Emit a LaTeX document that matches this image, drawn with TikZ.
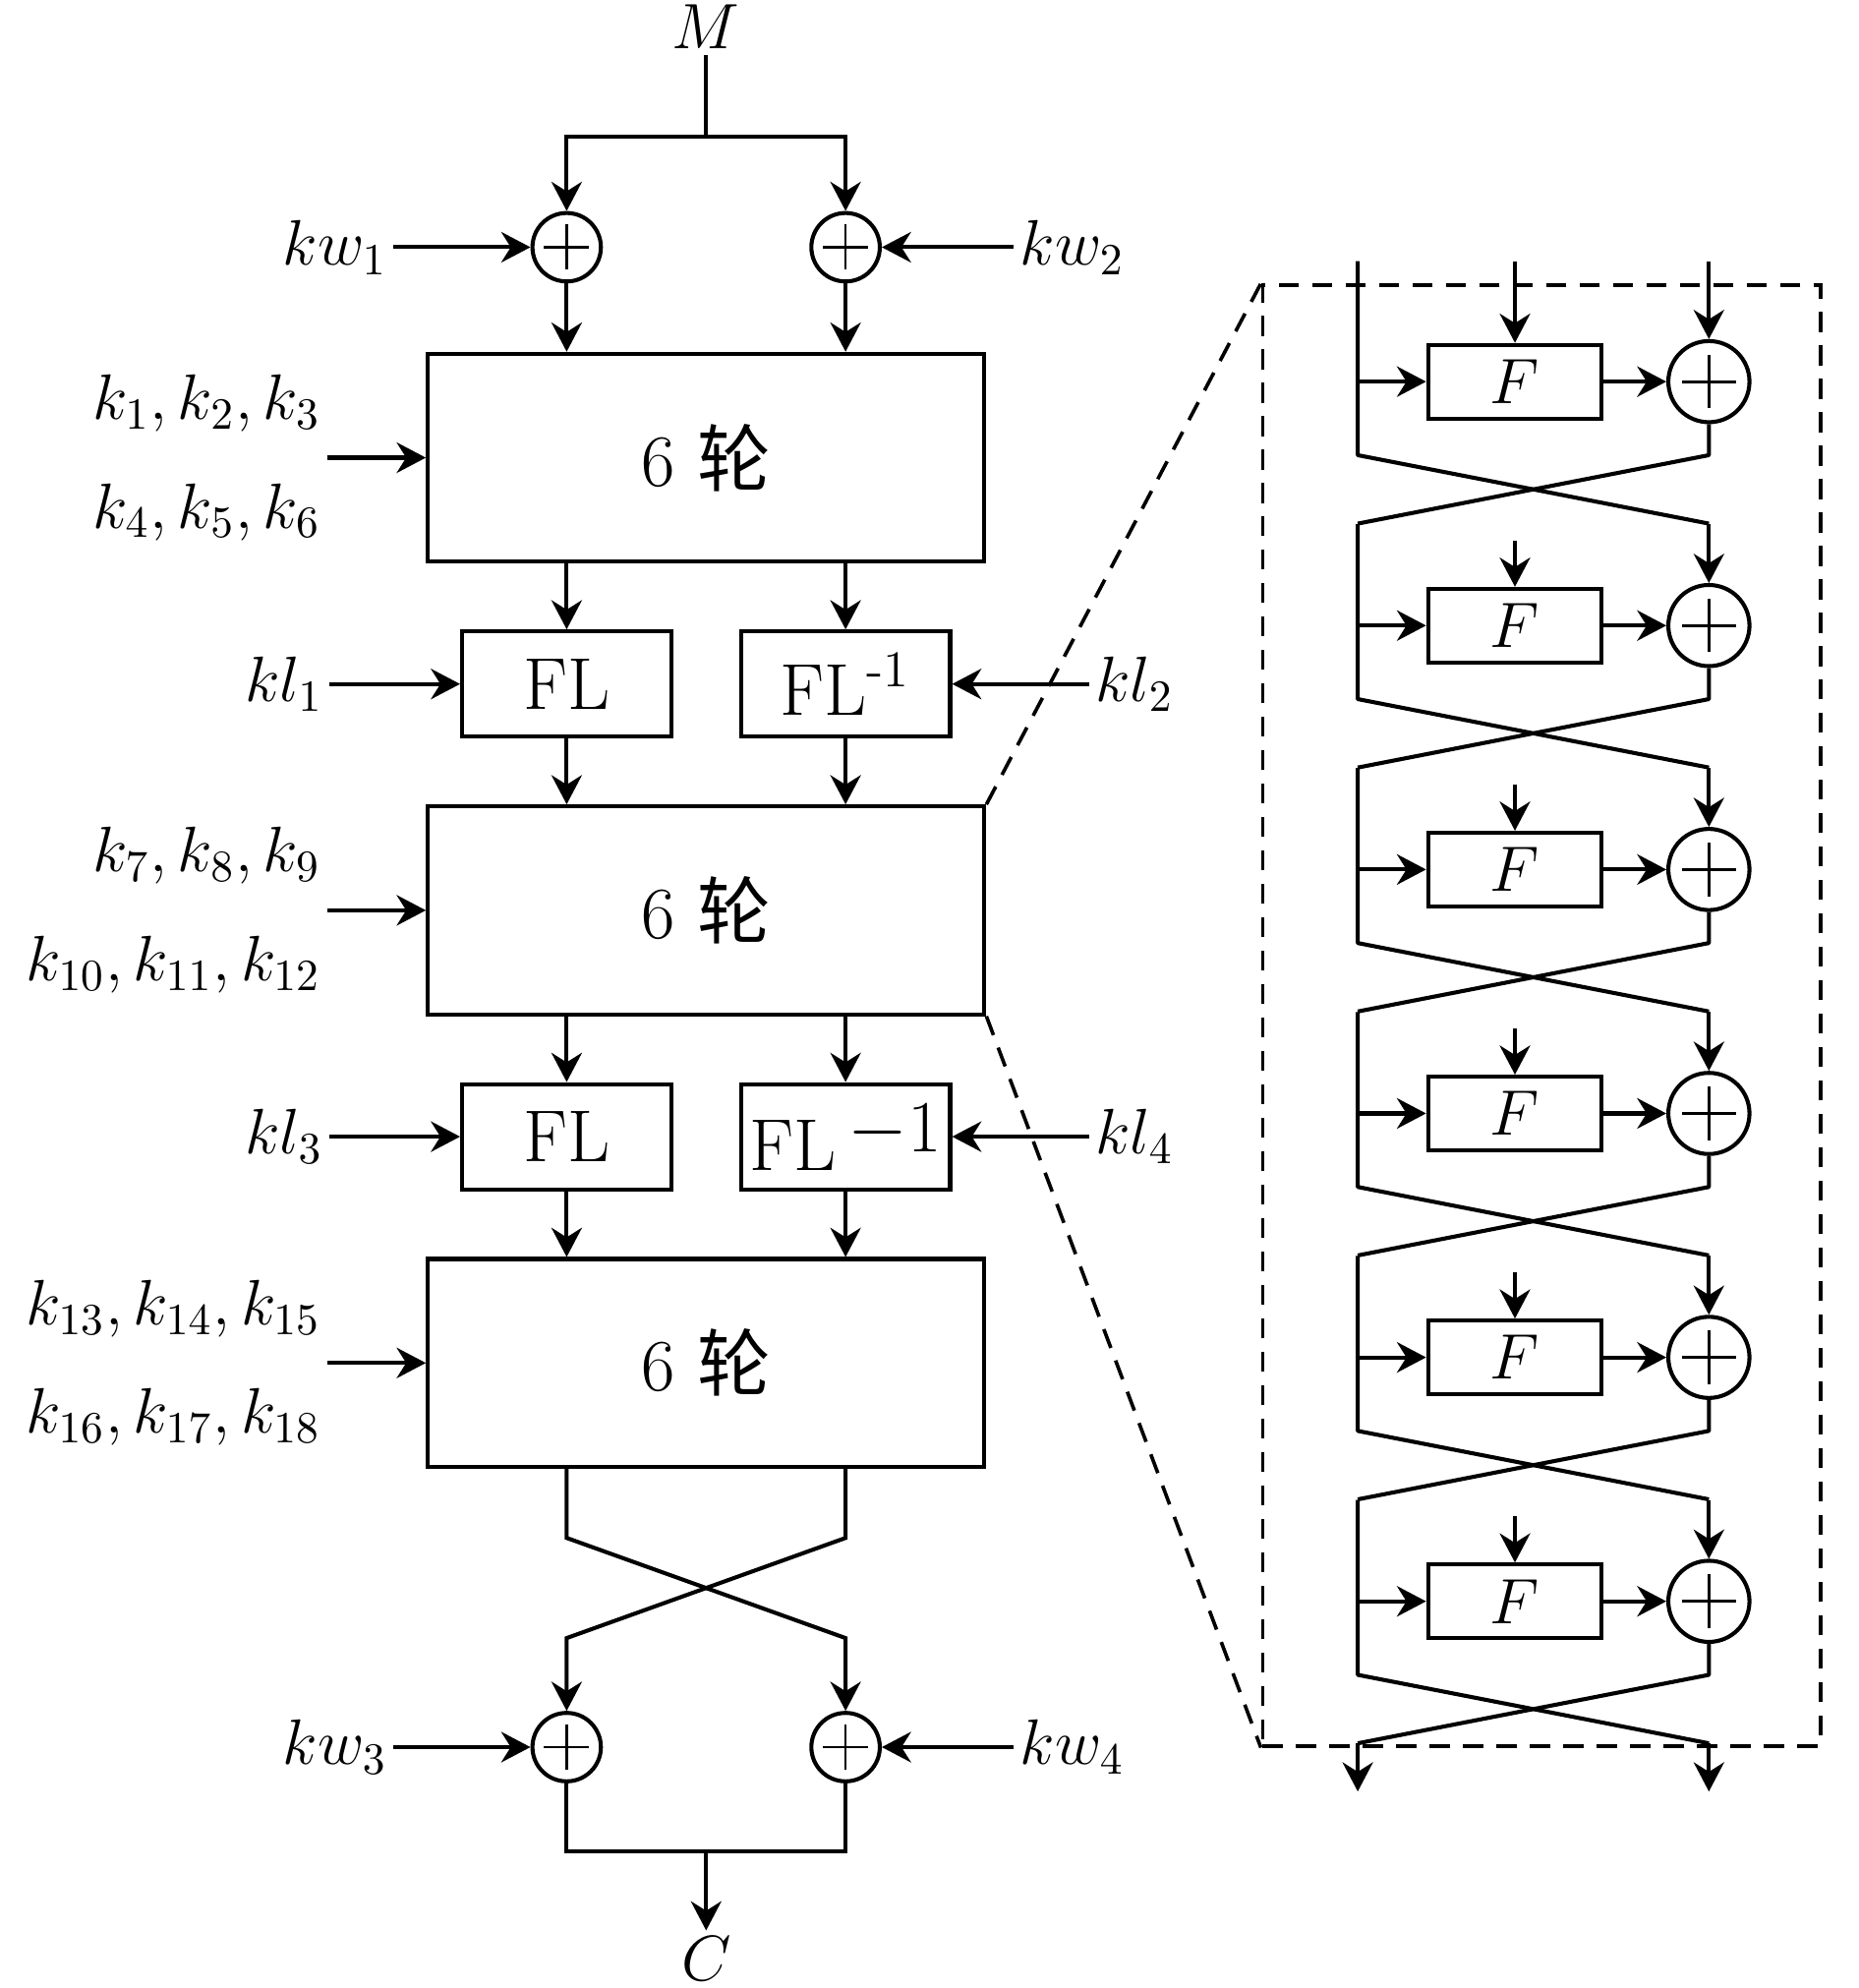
\documentclass[tikz,border=0pt]{standalone}
\usepackage{fontspec}
\newfontfamily\cjk{Noto Sans CJK SC}
\usepackage{tikz}
\usetikzlibrary{arrows.meta,positioning,calc}

\begin{document}
\begin{tikzpicture}[
  line width=0.9pt,
  box/.style={draw, minimum width=4.39cm, minimum height=1.64cm, inner sep=0pt, font=\fontsize{16.5}{19}\selectfont},
  flbox/.style={draw, minimum width=1.65cm, minimum height=0.83cm, inner sep=0pt, font=\fontsize{16.5}{19}\selectfont},
  fbox/.style={draw, minimum width=1.37cm, minimum height=0.58cm, inner sep=0pt, font=\fontsize{15}{18}\selectfont},
  xor/.style={circle, draw, minimum size=0.54cm, inner sep=0pt,
    path picture={\draw[line width=0.6pt]
      ($(path picture bounding box.north)!0.17!(path picture bounding box.south)$) -- ($(path picture bounding box.south)!0.17!(path picture bounding box.north)$)
      ($(path picture bounding box.west)!0.17!(path picture bounding box.east)$) -- ($(path picture bounding box.east)!0.17!(path picture bounding box.west)$);}},
  lbl/.style={inner sep=1pt, font=\fontsize{14.4}{17}\selectfont},
  arrow/.style={-{Stealth[length=2.3mm, width=2.4mm]}},
  zoomline/.style={draw, dash pattern=on 4.5pt off 3pt, line width=0.8pt}
]
\useasboundingbox (0,0) rectangle (14.66,-15.68);

% main column
\node[lbl] (M) at (5.57,-0.21) {$M$};
\coordinate (split) at (5.57,-1.08);
\node[xor] (xw1) at (4.47,-1.95) {};
\node[xor] (xw2) at (6.67,-1.95) {};
\node[lbl, left=1.08cm of xw1] (kw1) {$kw_1$};
\node[lbl, right=1.04cm of xw2] (kw2) {$kw_2$};

\node[box] (round1) at (5.57,-3.61) {6 {\cjk 轮}};
\node[lbl, align=right, left=0.78cm of round1] (keys1) {$k_1, k_2, k_3$\\[2.6mm]$k_4, k_5, k_6$};

\node[flbox] (fl1) at (4.47,-5.395) {FL};
\node[flbox] (flinv1) at (6.67,-5.395) {FL\textsuperscript{-1}};
\node[lbl, left=1.03cm of fl1] (kl1) {$kl_1$};
\node[lbl, right=1.08cm of flinv1] (kl2) {$kl_2$};

\node[box] (round2) at (5.57,-7.18) {6 {\cjk 轮}};
\node[lbl, align=right, left=0.78cm of round2] (keys2) {$k_7, k_8, k_9$\\[2.6mm]$k_{10}, k_{11}, k_{12}$};

\node[flbox] (fl2) at (4.47,-8.965) {FL};
\node[flbox] (flinv2) at (6.67,-8.965) {FL\,\raisebox{0.6ex}{$-$1}};
\node[lbl, left=1.03cm of fl2] (kl3) {$kl_3$};
\node[lbl, right=1.08cm of flinv2] (kl4) {$kl_4$};

\node[box] (round3) at (5.57,-10.75) {6 {\cjk 轮}};
\node[lbl, align=right, left=0.78cm of round3] (keys3) {$k_{13}, k_{14}, k_{15}$\\[2.6mm]$k_{16}, k_{17}, k_{18}$};

\coordinate (sw1) at (4.47,-12.13);
\coordinate (sw2) at (6.67,-12.13);
\coordinate (sw3) at (4.47,-12.92);
\coordinate (sw4) at (6.67,-12.92);
\node[xor] (xw3) at (4.47,-13.78) {};
\node[xor] (xw4) at (6.67,-13.78) {};
\node[lbl, left=1.08cm of xw3] (kw3) {$kw_3$};
\node[lbl, right=1.04cm of xw4] (kw4) {$kw_4$};
\coordinate (merge) at (5.57,-14.60);
\node[lbl] (C) at (5.57,-15.45) {$C$};

\draw (M) -- (split);
\draw[arrow] (split) -| (xw1);
\draw[arrow] (split) -| (xw2);
\draw[arrow] (kw1) -- (xw1);
\draw[arrow] (kw2) -- (xw2);
\draw[arrow] (xw1) -- (xw1 |- round1.north);
\draw[arrow] (xw2) -- (xw2 |- round1.north);
\draw[arrow] (keys1) -- (round1);
\draw[arrow] (round1.south -| fl1) -- (fl1);
\draw[arrow] (round1.south -| flinv1) -- (flinv1);
\draw[arrow] (kl1) -- (fl1);
\draw[arrow] (kl2) -- (flinv1);
\draw[arrow] (fl1) -- (fl1 |- round2.north);
\draw[arrow] (flinv1) -- (flinv1 |- round2.north);
\draw[arrow] (keys2) -- (round2);
\draw[arrow] (round2.south -| fl2) -- (fl2);
\draw[arrow] (round2.south -| flinv2) -- (flinv2);
\draw[arrow] (kl3) -- (fl2);
\draw[arrow] (kl4) -- (flinv2);
\draw[arrow] (fl2) -- (fl2 |- round3.north);
\draw[arrow] (flinv2) -- (flinv2 |- round3.north);
\draw[arrow] (keys3) -- (round3);
\draw[arrow] (round3.south -| sw1) -- (sw1) -- (sw4) -- (xw4);
\draw[arrow] (round3.south -| sw2) -- (sw2) -- (sw3) -- (xw3);
\draw[arrow] (kw3) -- (xw3);
\draw[arrow] (kw4) -- (xw4);
\draw (xw3) |- (merge) -| (xw4);
\draw[arrow] (merge) -- (C);

% detail of the 6 rounds
\node[zoomline, minimum width=4.40cm, minimum height=11.52cm, inner sep=0pt] (detail) at (12.16,-8.01) {};
\draw[zoomline] (round2.north east) -- (detail.north west);
\draw[zoomline] (round2.south east) -- (detail.south west);

\foreach \i in {1,...,6}{
  \pgfmathsetmacro{\yc}{-3.01-1.924*(\i-1)}
  \pgfmathsetmacro{\yt}{\i==1 ? -2.06 : \yc+0.80}
  \pgfmathsetmacro{\yk}{\i==1 ? -2.06 : \yc+0.67}
  \node[fbox] (F\i) at (11.95,\yc) {$F$};
  \node[xor, minimum size=0.64cm] (X\i) at (13.48,\yc) {};
  \coordinate (lin\i) at (10.71,\yc);
  \coordinate (ltop\i) at (10.71,\yt);
  \coordinate (rtop\i) at (13.48,\yt);
  \coordinate (ftop\i) at (11.95,\yk);
  \coordinate (lx\i) at (10.71,\yc-0.58);
  \coordinate (rx\i) at (13.48,\yc-0.58);
  \coordinate (lb\i) at (10.71,\yc-1.12);
  \coordinate (rb\i) at (13.48,\yc-1.12);
  \draw[arrow] (ftop\i) -- (F\i);
  \draw[arrow] (rtop\i) -- (X\i);
  \draw[arrow] (lin\i) -- (F\i);
  \draw[arrow] (F\i) -- (X\i);
  \draw[line join=round] (ltop\i) -- (lx\i) -- (rb\i);
  \draw[line join=round] (X\i) -- (rx\i) -- (lb\i);
}
\coordinate (out1) at (10.71,-14.13);
\coordinate (out2) at (13.48,-14.13);
\draw[arrow] (lb6) -- (out1);
\draw[arrow] (rb6) -- (out2);
\end{tikzpicture}
\end{document}
